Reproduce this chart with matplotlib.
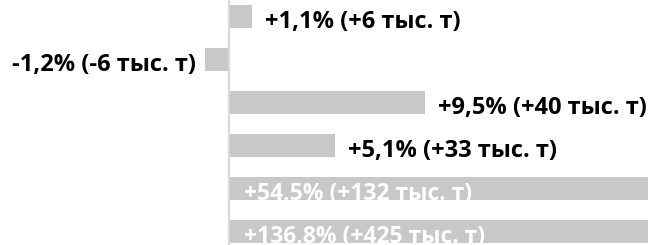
import numpy as np
import matplotlib
matplotlib.use('Agg')
import matplotlib.pyplot as plt

# данные
pct = [1.1, -1.2, 9.5, 5.1, 54.5, 136.8]
labels = ['+1,1% (+6 тыс. т)', '-1,2% (-6 тыс. т)', '+9,5% (+40 тыс. т)',
          '+5,1% (+33 тыс. т)', '+54,5% (+132 тыс. т)', '+136,8% (+425 тыс. т)']

plt.rcParams['font.family'] = ['Open Sans', 'DejaVu Sans']

fig = plt.figure(figsize=(6.48, 2.45), dpi=100)
ax = fig.add_axes([0, 0, 1, 1])

y = np.arange(len(pct))
ax.barh(y, pct, height=0.54, color='#c8c8c8', zorder=2)
ax.axvline(0, color='#d9d9d9', lw=1.6, zorder=3)

ax.set_xlim(-11.14, 20.32)
ax.set_ylim(5.314, -0.384)

fs = 17
for i, (v, t) in enumerate(zip(pct, labels)):
    if v > 20:
        # подпись внутри полосы, белым
        ax.annotate(t, (0, i), xytext=(10.5, -8.6), textcoords='offset points',
                    color='white', fontsize=fs - 0.5, fontweight='bold',
                    ha='left', va='baseline', zorder=4)
    elif v >= 0:
        ax.annotate(t, (v, i), xytext=(9.5, -8.6), textcoords='offset points',
                    color='black', fontsize=fs, fontweight='bold',
                    ha='left', va='baseline', zorder=4)
    else:
        ax.annotate(t, (v, i), xytext=(-6, -8.6), textcoords='offset points',
                    color='black', fontsize=fs, fontweight='bold',
                    ha='right', va='baseline', zorder=4)

ax.axis('off')
fig.savefig('out.png', dpi=100)
